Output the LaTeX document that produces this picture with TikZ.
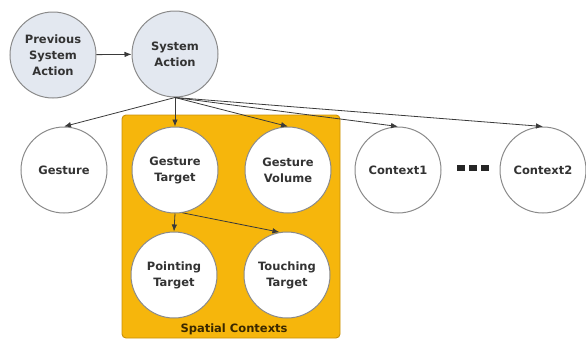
\documentclass[tikz,border=0pt]{standalone}
\usepackage{fontspec}
\setmainfont{DejaVu Sans}
\usetikzlibrary{arrows.meta}
\definecolor{sysfill}{HTML}{E3E8F0}
\definecolor{circline}{HTML}{8A8A8A}
\definecolor{conn}{HTML}{3A3A3A}
\definecolor{boxfill}{HTML}{F6B60C}
\definecolor{boxline}{HTML}{C8900A}
\definecolor{boxtext}{HTML}{3A2800}
\tikzset{
  varnode/.style={circle, draw=circline, line width=1pt, fill=white, minimum size=86pt, inner sep=0pt, align=center, font=\fontsize{11.5}{16}\selectfont\bfseries, text=black!80},
  sysnode/.style={varnode, fill=sysfill},
  conn/.style={draw=conn, line width=0.8pt, -{Latex[length=7pt,width=5.5pt]}},
  ctxbox/.style={draw=boxline, line width=0.9pt, fill=boxfill, rounded corners=4pt},
}
\begin{document}
\begin{tikzpicture}[x=1pt,y=-1pt]
\useasboundingbox (0,0) rectangle (586,341);
\path[ctxbox] (122,115) rectangle (340,338);
\node[font=\fontsize{11.5}{13}\selectfont\bfseries, text=boxtext] (sc) at (234,329) {Spatial Contexts};
\node[sysnode] (psa) at (53,55) {Previous\\System\\Action};
\node[sysnode] (sa) at (175,54) {System\\Action};
\node[varnode] (g) at (64,170) {Gesture};
\node[varnode] (gt) at (175,170) {Gesture\\Target};
\node[varnode] (gv) at (288,170) {Gesture\\Volume};
\node[varnode] (pt) at (174,275) {Pointing\\Target};
\node[varnode] (tt) at (287,275) {Touching\\Target};
\node[varnode] (c1) at (398,170) {Context1};
\node[varnode] (c2) at (543,170) {Context2};
\fill[black!85] (457,165) rectangle (465,171);
\fill[black!85] (469,165) rectangle (477,171);
\fill[black!85] (481,165) rectangle (489,171);
\draw[conn] (psa) -- (sa);
\draw[conn] (sa.south) -- (g.north);
\draw[conn] (sa.south) -- (gt.north);
\draw[conn] (sa.south) -- (gv.north);
\draw[conn] (sa.south) -- (c1.north);
\draw[conn] (sa.south) -- (c2.north);
\draw[conn] (gt.south) -- (pt.north);
\draw[conn] (gt.-80) -- (tt.100);
\end{tikzpicture}
\end{document}
